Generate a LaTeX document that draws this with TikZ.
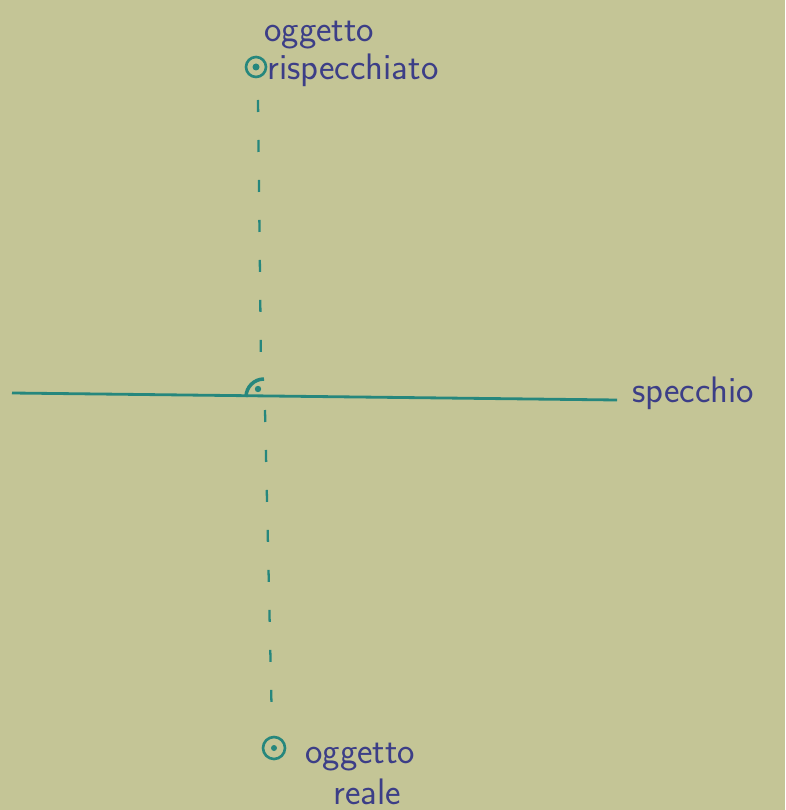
\documentclass[tikz,border=0pt]{standalone}
\usepackage{xcolor}
\usepackage{tikz}
\usetikzlibrary{calc,arrows.meta}
\definecolor{carta}{RGB}{196,197,150}
\definecolor{verde}{RGB}{38,135,125}
\definecolor{blu}{RGB}{60,62,135}

\newlength{\pxu}
\setlength{\pxu}{0.02cm}
\tikzset{
	inchiostro/.style={draw=verde, line width=1.6pt},
	oggetto/.style={circle, draw=verde, line width=1.5pt, minimum size=20\pxu, inner sep=0pt},
	scritta/.style={text=blu, font=\sffamily\fontsize{21}{23}\selectfont, inner sep=0pt},
	tratteggio/.style={draw=verde, line width=1.3pt, dash pattern=on 12\pxu off 28\pxu}
}

\begin{document}
\begin{tikzpicture}[x=0.02cm, y=-0.02cm]
	\fill[carta] (0,0) rectangle (785,810);
	\useasboundingbox (0,0) rectangle (785,810);
	% specchio
	\coordinate (sx) at (12,393);
	\coordinate (dx) at (617,400);
	\draw[inchiostro] (sx)--(dx);
	\node[scritta, anchor=west] (specchio) at (632,393) {specchio};
	% oggetti
	\node[oggetto] (rispecchiato) at (256,67) {};
	\fill[verde] (rispecchiato.center) circle (3.5);
	\node[oggetto, minimum size=22\pxu] (reale) at (274,748) {};
	\fill[verde] (reale.center) circle (3);
	\node[scritta, anchor=west] (t1) at (267,70) {rispecchiato};
	\node[scritta, anchor=west] (t2) at (264,35) {oggetto};
	\node[scritta, anchor=west] (t3) at (305,757) {oggetto};
	\node[scritta, anchor=west] (t4) at (333,792) {reale};
	% perpendicolare
	\coordinate (piede) at (264,397);
	\coordinate (a) at (258,100);
	\coordinate (b) at (261,365);
	\coordinate (c) at (265,410);
	\coordinate (d) at (272,728);
	\draw[tratteggio] (a)--(b);
	\draw[tratteggio] (c)--(d);
	% angolo retto
	\draw[inchiostro, line width=2pt] ($(piede)+(-18,0)$) arc (180:270:18);
	\fill[verde] ($(piede)+(-6,-8)$) circle (3.2);
\end{tikzpicture}
\end{document}
